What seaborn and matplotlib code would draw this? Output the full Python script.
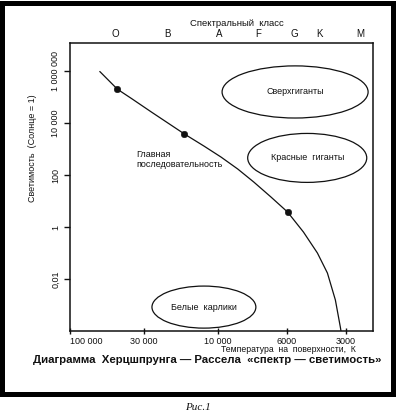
import numpy as np
import matplotlib
matplotlib.use("Agg")
import matplotlib.pyplot as plt
from matplotlib.patches import Ellipse, Rectangle
import seaborn as sns

# main sequence line (temperature K, luminosity in suns)
ms_temp = [61400, 46000, 36500, 26700, 16400, 12300, 9780, 8630, 7660, 6740, 5930,
           4930, 4190, 3730, 3400, 3210, 3160]
ms_lum = [9.6e5, 2.0e5, 8.75e4, 2.65e4, 3780, 1300, 492, 170, 53.8, 14.3, 3.78,
          0.643, 0.1, 0.017, 0.00156, 1.43e-4, 7e-5]

# the three marked stars
dot_temp = [46000, 16400, 5930]
dot_lum = [2.0e5, 3780, 3.78]

temp_ticks = [100000, 30000, 10000, 6000, 3000]
temp_labels = ["100 000", "30 000", "10 000", "6000", "3000"]
lum_ticks = [1e6, 1e4, 1e2, 1, 0.01]
lum_labels = ["1 000 000", "10 000", "100", "1", "0,01"]

spectral_classes = ["O", "B", "A", "F", "G", "K", "M"]
class_temp = [48000, 21000, 9900, 7400, 5500, 4100, 2550]

# the drawing's temperature axis is not a clean log scale: tick positions (px),
# negated so the scale function grows with temperature
tick_px = [68, 142, 217, 286, 346]
U = np.log10(temp_ticks)[::-1]
Q = -np.array(tick_px, dtype=float)[::-1]


def fwd(t):
    t = np.asarray(t, dtype=float)
    with np.errstate(divide="ignore", invalid="ignore"):
        u = np.log10(t)
    q = np.interp(u, U, Q)
    q = np.where(u < U[0], Q[0] + (u - U[0]) * (Q[1] - Q[0]) / (U[1] - U[0]), q)
    q = np.where(u > U[-1], Q[-1] + (u - U[-1]) * (Q[-1] - Q[-2]) / (U[-1] - U[-2]), q)
    return q


def inv(q):
    q = np.asarray(q, dtype=float)
    u = np.interp(q, Q, U)
    u = np.where(q < Q[0], U[0] + (q - Q[0]) * (U[1] - U[0]) / (Q[1] - Q[0]), u)
    u = np.where(q > Q[-1], U[-1] + (q - Q[-1]) * (U[-1] - U[-2]) / (Q[-1] - Q[-2]), u)
    return 10 ** u


sns.set_style("ticks")
plt.rcParams["font.family"] = ["Liberation Sans", "DejaVu Sans"]
ink = "#111111"

fig = plt.figure(figsize=(3.96, 4.15), dpi=100)
ax = fig.add_axes([0.1768, 0.2024, 0.765, 0.694])

sns.lineplot(x=ms_temp, y=ms_lum, sort=False, estimator=None, color=ink, lw=0.9, ax=ax)
sns.scatterplot(x=dot_temp, y=dot_lum, color=ink, s=22, edgecolor=ink, zorder=3, ax=ax)

ax.set_xscale("function", functions=(fwd, inv))
ax.set_yscale("log")
ax.set_xlim(float(inv(-70)), float(inv(-373)))
ax.set_ylim(1e-4, 1.2e7)

ax.set_xticks(temp_ticks)
ax.set_xticklabels(temp_labels)
ax.set_yticks(lum_ticks)
ax.set_yticklabels(lum_labels)
ax.minorticks_off()
ax.tick_params(axis="x", direction="inout", length=5, width=1, labelsize=6.5, pad=2, colors=ink)
ax.tick_params(axis="y", direction="out", length=4, width=1, labelsize=6.5, pad=3, colors=ink)
plt.setp(ax.get_yticklabels(), rotation=90, va="center")
ax.get_xticklabels()[0].set_ha("left")
for s in ax.spines.values():
    s.set_visible(True)
    s.set_linewidth(1.1)
    s.set_color(ink)
ax.grid(False)

# regions
regions = [
    ("Сверхгиганты", 0.743, 0.830, 0.482, 0.181),
    ("Красные  гиганты", 0.783, 0.601, 0.393, 0.170),
    ("Белые  карлики", 0.442, 0.083, 0.343, 0.146),
]
for name, cx, cy, w, h in regions:
    ax.add_patch(Ellipse((cx, cy), w, h, transform=ax.transAxes, fill=False, ec=ink, lw=0.9))
    ax.text(cx, cy, name, transform=ax.transAxes, ha="center", va="center", fontsize=6.5, color=ink)

ax.text(0.218, 0.594, "Главная\nпоследовательность", transform=ax.transAxes,
        ha="left", va="center", fontsize=6.5, linespacing=1.15, color=ink)

# spectral classes along the top
xt = ax.get_xaxis_transform()
for c, t in zip(spectral_classes, class_temp):
    ax.text(t, 1.031, c, transform=xt, ha="center", va="center", fontsize=7, color=ink)
ax.text(0.551, 1.069, "Спектральный  класс", transform=ax.transAxes, ha="center",
        va="center", fontsize=6.8, color=ink)

fig.text(0.083, 0.643, "Светимость  (Солнце = 1)", rotation=90, ha="center", va="center",
         fontsize=6.5, color=ink)
fig.text(0.899, 0.157, "Температура  на  поверхности,  К", ha="right", va="center",
         fontsize=6.2, color=ink)
fig.text(0.523, 0.1325, "Диаграмма  Херцшпрунга — Рассела  «спектр — светимость»",
         ha="center", va="center", fontsize=8.2, fontweight="bold", color=ink)

fig.add_artist(Rectangle((0.0063, 0.0506), 0.987, 0.943, transform=fig.transFigure,
                         fill=False, ec="black", lw=3.6, joinstyle="miter"))
fig.text(0.5, 0.019, "Рис.1", ha="center", va="center", fontsize=8, style="italic",
         family=["Liberation Serif", "DejaVu Serif"], color=ink)

fig.savefig("out.png", dpi=100)
